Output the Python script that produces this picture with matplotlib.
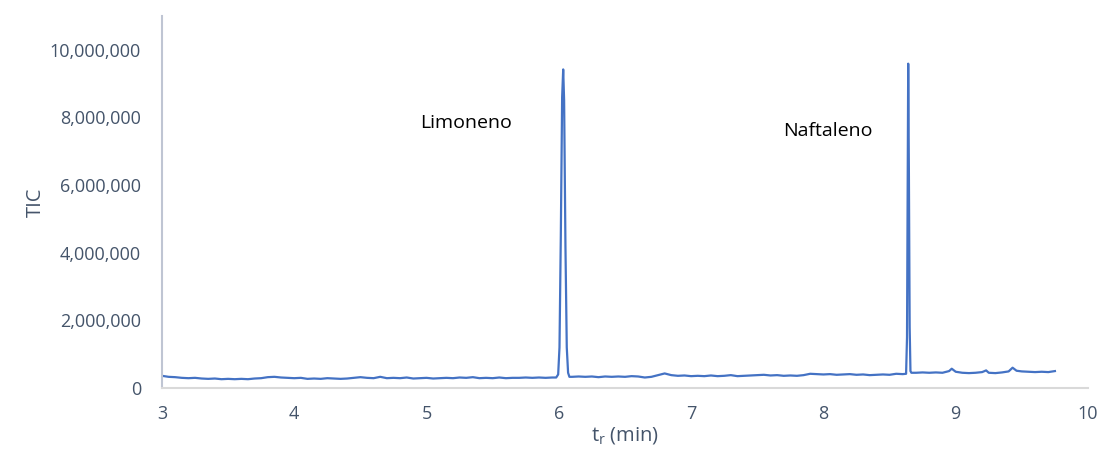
import matplotlib.pyplot as plt
import numpy as np
from matplotlib.ticker import FuncFormatter

# retention time (min) and total ion current (millions of counts)
t_base1 = [3.00, 3.05, 3.10, 3.15, 3.20, 3.25, 3.30, 3.35, 3.40, 3.45,
           3.50, 3.55, 3.60, 3.65, 3.70, 3.75, 3.80, 3.85, 3.90, 3.95,
           4.00, 4.05, 4.10, 4.15, 4.20, 4.25, 4.30, 4.35, 4.40, 4.45,
           4.50, 4.55, 4.60, 4.65, 4.70, 4.75, 4.80, 4.85, 4.90, 4.95,
           5.00, 5.05, 5.10, 5.15, 5.20, 5.25, 5.30, 5.35, 5.40, 5.45,
           5.50, 5.55, 5.60, 5.65, 5.70, 5.75, 5.80, 5.85, 5.90, 5.95]
tic_base1 = [0.36, 0.33, 0.32, 0.30, 0.29, 0.30, 0.28, 0.27, 0.28, 0.26,
             0.27, 0.26, 0.27, 0.26, 0.28, 0.29, 0.32, 0.33, 0.31, 0.30,
             0.29, 0.30, 0.27, 0.28, 0.27, 0.29, 0.28, 0.27, 0.28, 0.30,
             0.32, 0.30, 0.29, 0.33, 0.29, 0.30, 0.29, 0.31, 0.28, 0.29,
             0.30, 0.28, 0.29, 0.30, 0.29, 0.31, 0.30, 0.32, 0.29, 0.30,
             0.29, 0.31, 0.29, 0.30, 0.30, 0.31, 0.30, 0.31, 0.30, 0.31]

# limonene peak
t_lim = [5.980, 5.995, 6.005, 6.015, 6.025, 6.033, 6.040, 6.050, 6.060, 6.070, 6.080]
tic_lim = [0.31, 0.40, 1.20, 4.50, 8.60, 9.42, 8.50, 4.20, 1.20, 0.45, 0.33]

t_base2 = [6.10, 6.15, 6.20, 6.25, 6.30, 6.35, 6.40, 6.45, 6.50, 6.55,
           6.60, 6.65, 6.70, 6.75, 6.80, 6.85, 6.90, 6.95, 7.00, 7.05,
           7.10, 7.15, 7.20, 7.25, 7.30, 7.35, 7.40, 7.45, 7.50, 7.55,
           7.60, 7.65, 7.70, 7.75, 7.80, 7.85, 7.90, 7.95, 8.00, 8.05,
           8.10, 8.15, 8.20, 8.25, 8.30, 8.35, 8.40, 8.45, 8.50, 8.55, 8.60]
tic_base2 = [0.33, 0.34, 0.33, 0.34, 0.32, 0.34, 0.33, 0.34, 0.33, 0.35,
             0.34, 0.31, 0.33, 0.38, 0.43, 0.38, 0.36, 0.37, 0.35, 0.36,
             0.35, 0.37, 0.35, 0.36, 0.38, 0.35, 0.36, 0.37, 0.38, 0.39,
             0.37, 0.38, 0.36, 0.37, 0.36, 0.38, 0.42, 0.41, 0.40, 0.41,
             0.39, 0.40, 0.41, 0.39, 0.40, 0.38, 0.39, 0.40, 0.39, 0.42, 0.41]

# naphthalene peak
t_naf = [8.625, 8.632, 8.637, 8.641, 8.646, 8.652, 8.658, 8.665]
tic_naf = [0.42, 1.50, 6.00, 9.59, 6.50, 1.80, 0.50, 0.45]

t_base3 = [8.70, 8.75, 8.80, 8.85, 8.90, 8.95, 8.97, 9.00, 9.05, 9.10,
           9.15, 9.20, 9.23, 9.25, 9.30, 9.35, 9.40, 9.43, 9.46, 9.50,
           9.55, 9.60, 9.65, 9.70, 9.75]
tic_base3 = [0.45, 0.46, 0.45, 0.46, 0.45, 0.50, 0.57, 0.48, 0.45, 0.44,
             0.45, 0.47, 0.52, 0.45, 0.44, 0.46, 0.49, 0.60, 0.51, 0.49,
             0.48, 0.47, 0.48, 0.47, 0.50]

t = np.array(t_base1 + t_lim + t_base2 + t_naf + t_base3)
tic = np.array(tic_base1 + tic_lim + tic_base2 + tic_naf + tic_base3) * 1e6

labels = ["Limoneno", "Naftaleno"]
label_pos = [(5.30, 7.83e6), (8.03, 7.6e6)]

plt.rcParams['font.family'] = ['Open Sans', 'DejaVu Sans']
text_col = '#44546A'

fig = plt.figure(figsize=(11.04, 4.54), dpi=100)
ax = fig.add_axes([0.1467, 0.1454, 0.8388, 0.8194])

ax.plot(t, tic, color='#4472C4', lw=1.6)

for lab, (x, y) in zip(labels, label_pos):
    ax.text(x, y, lab, fontsize=14, color='black', ha='center', va='center')

ax.set_xlim(3, 10)
ax.set_ylim(0, 11e6)
ax.set_xticks(range(3, 11))
ax.set_yticks(np.arange(0, 10.1e6, 2e6))
ax.yaxis.set_major_formatter(FuncFormatter(lambda v, p: f"{int(v):,}"))

for s in ['top', 'right']:
    ax.spines[s].set_visible(False)
ax.spines['left'].set_color('#BFC5D3')
ax.spines['left'].set_linewidth(1.5)
ax.spines['bottom'].set_color('#D9D9D9')
ax.spines['bottom'].set_linewidth(1.5)

ax.tick_params(axis='both', length=0, labelsize=13, labelcolor=text_col)
ax.tick_params(axis='y', pad=15)
ax.tick_params(axis='x', pad=12)

ax.set_xlabel(r"t$_\mathregular{r}$ (min)", fontsize=14.5, color=text_col, labelpad=2)
ax.set_ylabel("TIC", fontsize=14.5, color=text_col, labelpad=3)

fig.savefig("out.png", dpi=100)
